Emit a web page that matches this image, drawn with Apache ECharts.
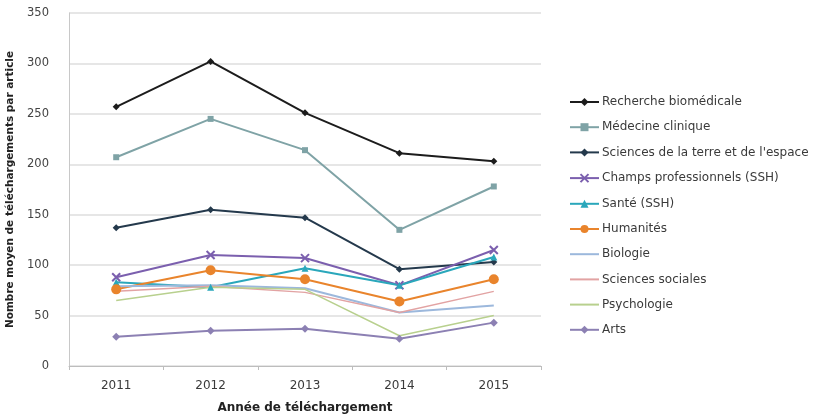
<!DOCTYPE html>
<html>
<head>
<meta charset="utf-8">
<script src="https://cdn.jsdelivr.net/npm/echarts@6/dist/echarts.min.js"></script>
<style>
  html, body { margin: 0; padding: 0; background: #fff; }
  #chart { width: 821px; height: 416px; }
</style>
</head>
<body>
<div id="chart"></div>
<script>
// Années de téléchargement
const years = ['2011', '2012', '2013', '2014', '2015'];

// Nombre moyen de téléchargements par article, par discipline
const rechercheBiomedicale = [257, 302, 251, 211, 203];
const medecineClinique = [207, 245, 214, 135, 178];
const sciencesTerreEspace = [137, 155, 147, 96, 103];
const champsProfessionnels = [88, 110, 107, 80, 115];
const sante = [83, 78, 97, 80, 108];
const humanites = [76, 95, 86, 64, 86];
const biologie = [79, 80, 77, 53, 60];
const sciencesSociales = [74, 79, 73, 53, 74];
const psychologie = [65, 78, 76, 30, 50];
const arts = [29, 35, 37, 27, 43];

const yTicks = { min: 0, max: 350, interval: 50 };

const font = 'DejaVu Sans, Verdana, sans-serif';

function serie(name, data, color, symbol, size, width) {
  return {
    name: name,
    type: 'line',
    data: data,
    symbol: symbol,
    symbolSize: size,
    showSymbol: symbol !== 'none',
    lineStyle: { color: color, width: width },
    itemStyle: { color: color },
    emphasis: { disabled: true },
    z: 3
  };
}

const series = [
  serie('Recherche biomédicale', rechercheBiomedicale, '#1c1c1c', 'diamond', 7, 2),
  serie('Médecine clinique', medecineClinique, '#7fa3a6', 'rect', 6, 2),
  serie('Sciences de la terre et de l\'espace', sciencesTerreEspace, '#24394c', 'diamond', 7, 2),
  serie('Champs professionnels (SSH)', champsProfessionnels, '#7b5fae', 'path://M0,0L10,10M10,0L0,10', 8, 2),
  serie('Santé (SSH)', sante, '#2aa7bb', 'triangle', 7, 2),
  serie('Humanités', humanites, '#e9842c', 'circle', 10, 2),
  serie('Biologie', biologie, '#9cb8dc', 'none', 6, 2),
  serie('Sciences sociales', sciencesSociales, '#e2a3a3', 'none', 6, 1.5),
  serie('Psychologie', psychologie, '#b8d08e', 'none', 6, 1.5),
  serie('Arts', arts, '#8c80b3', 'diamond', 8, 2)
];
// the cross marker is drawn by its outline
series[3].itemStyle = { color: 'none', borderColor: '#7b5fae', borderWidth: 2 };

// series without markers show a plain line in the legend
const legendItems = series.map(s => s.symbol === 'none'
  ? { name: s.name, itemStyle: { opacity: 0 } }
  : { name: s.name });

const chart = echarts.init(document.getElementById('chart'), null, { renderer: 'canvas' });
chart.setOption({
  animation: false,
  backgroundColor: '#ffffff',
  textStyle: { fontFamily: font },
  grid: { left: 69, right: 280, top: 13, bottom: 50, containLabel: false, outerBoundsMode: 'none' },
  legend: {
    orient: 'vertical',
    left: 564,
    top: 91,
    itemWidth: 29,
    itemHeight: 10,
    itemGap: 13.2,
    textStyle: { fontFamily: font, fontSize: 12, color: '#3a3a3a', padding: [0, 0, 0, -2] },
    data: legendItems
  },
  xAxis: {
    type: 'category',
    data: years,
    boundaryGap: true,
    name: 'Année de téléchargement',
    nameLocation: 'middle',
    nameGap: 36,
    nameTextStyle: { fontFamily: font, fontSize: 12, fontWeight: 'bold', color: '#222' },
    axisLine: { lineStyle: { color: '#bdbdbd', width: 1 } },
    axisTick: { show: true, length: 4, lineStyle: { color: '#bdbdbd' } },
    axisLabel: { fontFamily: font, fontSize: 12, color: '#3a3a3a', margin: 14 }
  },
  yAxis: {
    type: 'value',
    min: yTicks.min,
    max: yTicks.max,
    interval: yTicks.interval,
    name: 'Nombre moyen de téléchargements par article',
    nameLocation: 'middle',
    nameGap: 47,
    nameTextStyle: { fontFamily: font, fontSize: 10.5, fontWeight: 'bold', color: '#222' },
    axisLine: { show: true, lineStyle: { color: '#c8c8c8', width: 1 } },
    axisTick: { show: false },
    axisLabel: { fontFamily: font, fontSize: 11.5, color: '#444', margin: 20 },
    splitLine: { lineStyle: { color: '#dedede', width: 1.5 } }
  },
  series: series
});
</script>
</body>
</html>
